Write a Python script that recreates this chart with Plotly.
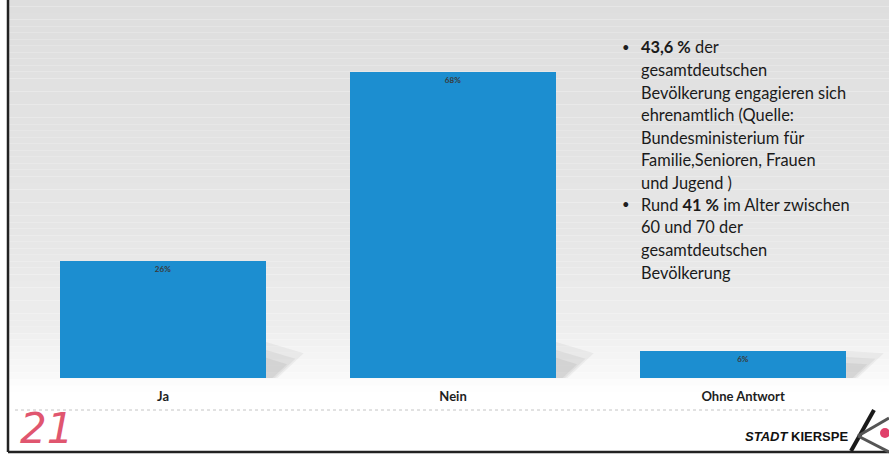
import plotly.graph_objects as go

# Survey answers (share of respondents, %)
categories = ["Ja", "Nein", "Ohne Antwort"]
shares = [26, 68, 6]
share_labels = ["26%", "68%", "6%"]

# Bullet notes shown beside the bars
note_lines = [
    ("•", "<b>43,6 %</b> der"),
    ("", "gesamtdeutschen"),
    ("", "Bevölkerung engagieren sich"),
    ("", "ehrenamtlich (Quelle:"),
    ("", "Bundesministerium für"),
    ("", "Familie,Senioren, Frauen"),
    ("", "und Jugend )"),
    ("•", "Rund <b>41 %</b> im Alter zwischen"),
    ("", "60 und 70 der"),
    ("", "gesamtdeutschen"),
    ("", "Bevölkerung"),
]

W, H = 889, 455
PLOT_H = 378
Y_MAX = 84


def px(x):
    return x / W


def py(y):
    return (PLOT_H - y) / PLOT_H


fig = go.Figure()
fig.add_trace(go.Bar(
    x=categories,
    y=shares,
    width=0.71,
    marker=dict(color="#1c8ed0", line=dict(width=0)),
    text=share_labels,
    textposition="inside",
    insidetextanchor="end",
    textfont=dict(size=8, color="#3a3a3a", family="Lato", weight="bold"),
    constraintext="none",
    hoverinfo="skip",
))

shapes = []

# soft grey backdrop fading to white towards the baseline
stops = [(0, 222), (120, 226), (250, 231), (330, 238), (372, 248), (392, 255)]
n_bands = 60
for i in range(n_bands):
    y0 = 392 * i / n_bands
    y1 = 392 * (i + 1) / n_bands
    ym = (y0 + y1) / 2
    for (a, ca), (b, cb) in zip(stops, stops[1:]):
        if a <= ym <= b:
            c = ca + (cb - ca) * (ym - a) / (b - a)
            break
    c = int(round(c))
    shapes.append(dict(type="rect", xref="paper", yref="paper", layer="below",
                       x0=px(8), x1=1, y0=py(y1), y1=py(y0),
                       fillcolor=f"rgb({c},{c},{c})", line=dict(width=0)))

# soft drop shadow behind each bar
for i, v in enumerate(shares):
    xr = i + 0.355
    for k, a in enumerate((0.10, 0.12, 0.14)):
        s = 1 - 0.22 * k
        shapes.append(dict(type="path", xref="x", yref="y", layer="below",
                           path=(f"M {xr},0 L {xr},{min(v, 8) * s} "
                                 f"L {xr + 0.13 * s},{5.5 * s} L {xr + 0.04 * s},0 Z"),
                           fillcolor=f"rgba(140,140,140,{a})", line=dict(width=0)))

# slide frame
shapes.append(dict(type="line", xref="paper", yref="paper",
                   x0=px(8), x1=px(8), y0=py(0), y1=py(452),
                   line=dict(color="#222222", width=2.5)))
shapes.append(dict(type="line", xref="paper", yref="paper",
                   x0=px(8), x1=1, y0=py(452), y1=py(452),
                   line=dict(color="#222222", width=2.5)))
# faint dotted rule under the labels
shapes.append(dict(type="line", xref="paper", yref="paper",
                   x0=px(15), x1=px(830), y0=py(410), y1=py(410),
                   line=dict(color="#c4c4c4", width=1, dash="dot")))

# Kierspe "K" emblem
shapes.append(dict(type="line", xref="paper", yref="paper",
                   x0=px(851), x1=px(874), y0=py(451), y1=py(410),
                   line=dict(color="#1a1a1a", width=4)))
shapes.append(dict(type="line", xref="paper", yref="paper",
                   x0=px(858), x1=px(889), y0=py(436), y1=py(418),
                   line=dict(color="#555555", width=3)))
shapes.append(dict(type="line", xref="paper", yref="paper",
                   x0=px(858), x1=px(889), y0=py(436), y1=py(452),
                   line=dict(color="#555555", width=3)))
shapes.append(dict(type="circle", xref="paper", yref="paper",
                   x0=px(880), x1=px(890), y0=py(438), y1=py(428),
                   fillcolor="#e0406a", line=dict(width=0)))

annotations = []
LINE0, STEP = 47, 22.5
for k, (bullet, txt) in enumerate(note_lines):
    yy = LINE0 + k * STEP
    if bullet:
        annotations.append(dict(text=bullet, xref="paper", yref="paper",
                                x=px(620), y=py(yy), xanchor="left", yanchor="middle",
                                showarrow=False,
                                font=dict(family="Lato", size=13, color="#1e1e1e")))
    annotations.append(dict(text=txt, xref="paper", yref="paper",
                            x=px(639), y=py(yy), xanchor="left", yanchor="middle",
                            showarrow=False,
                            font=dict(family="Lato", size=16.4, color="#1a1a1a")))

annotations.append(dict(text="<i>21</i>", xref="paper", yref="paper",
                        x=px(18), y=py(428), xanchor="left", yanchor="middle",
                        showarrow=False,
                        font=dict(family="DejaVu Sans", size=42, color="#e0566f")))
annotations.append(dict(text="<b><i>STADT</i></b> <b>KIERSPE</b>", xref="paper", yref="paper",
                        x=px(850), y=py(436), xanchor="right", yanchor="middle",
                        showarrow=False,
                        font=dict(family="Liberation Sans Narrow, Liberation Sans", size=13,
                                  color="#111111")))

fig.update_layout(
    width=W, height=H,
    margin=dict(l=0, r=0, t=0, b=H - PLOT_H),
    paper_bgcolor="white",
    plot_bgcolor="rgba(0,0,0,0)",
    showlegend=False,
    bargap=0,
    shapes=shapes,
    annotations=annotations,
    xaxis=dict(range=[-0.562, 2.503], showgrid=False, zeroline=False, showline=False,
               ticks="", ticklabelstandoff=9,
               tickfont=dict(family="Lato", size=13, color="#1e1e1e", weight="bold")),
    yaxis=dict(range=[0, Y_MAX], visible=False, showgrid=False, zeroline=False),
)

fig.write_html("out.html")
